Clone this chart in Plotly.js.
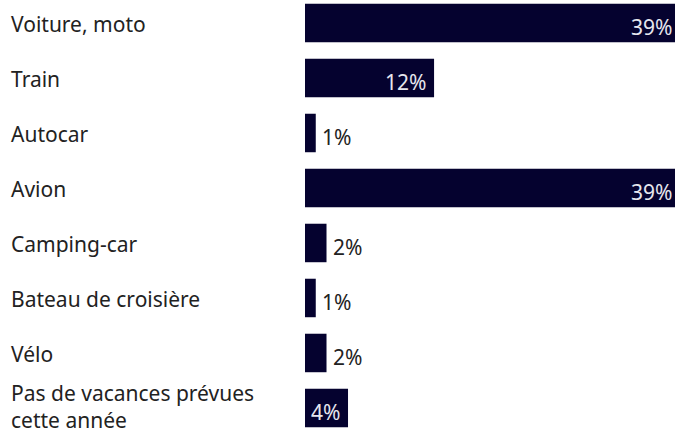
<!DOCTYPE html>
<html>
<head>
<meta charset="utf-8">
<script src="https://cdn.plot.ly/plotly-3.0.1.min.js"></script>
<style>html,body{margin:0;padding:0;background:#fff;}#chart{width:675px;height:428px;}</style>
</head>
<body>
<div id="chart"></div>
<script>
const categories = ["Voiture, moto", "Train", "Autocar", "Avion", "Camping-car", "Bateau de croisière", "Vélo", "Pas de vacances prévues<br>cette année"];
const values = [39, 12, 1, 39, 2, 1, 2, 4];
const valueLabels = ["39%", "12%", "1%", "39%", "2%", "1%", "2%", "4%"];

const W = 675, H = 428, L = 305;
const xMax = 34.4;
const barColor = "#05022f";
const font = "Noto Sans, Open Sans, sans-serif";
const fs = 21;

const idx = categories.map((c, i) => i);

const trace = {
  type: "bar",
  orientation: "h",
  x: values,
  y: idx,
  width: 0.7,
  marker: {color: barColor},
  hoverinfo: "none"
};

const annotations = [];
categories.forEach((c, i) => {
  annotations.push({
    xref: "paper", yref: "y",
    x: -L / (W - L), y: i,
    xanchor: "left", yanchor: "middle", align: "left",
    xshift: 9, yshift: c.indexOf("<br>") >= 0 ? 1 : -1,
    text: c, showarrow: false,
    font: {family: font, size: fs, color: "#222"}
  });
  const v = values[i];
  const inside = v >= 4;
  const clipped = v > xMax;
  annotations.push({
    xref: "x", yref: "y",
    x: Math.min(v, xMax), y: i,
    xanchor: inside ? "right" : "left", yanchor: "middle",
    xshift: inside ? (clipped ? -1 : -6) : 4, yshift: -4,
    text: valueLabels[i], showarrow: false,
    font: {family: font, size: fs, color: inside ? "#e6e6ee" : "#222"}
  });
});

const layout = {
  width: W, height: H,
  margin: {l: L, r: 0, t: 0, b: 0, pad: 0},
  paper_bgcolor: "#fff", plot_bgcolor: "#fff",
  showlegend: false,
  xaxis: {range: [0, xMax], visible: false, fixedrange: true},
  yaxis: {range: [7.364, -0.418], visible: false, fixedrange: true},
  annotations: annotations,
  font: {family: font}
};

Plotly.newPlot("chart", [trace], layout, {displayModeBar: false, staticPlot: true});
</script>
</body>
</html>
